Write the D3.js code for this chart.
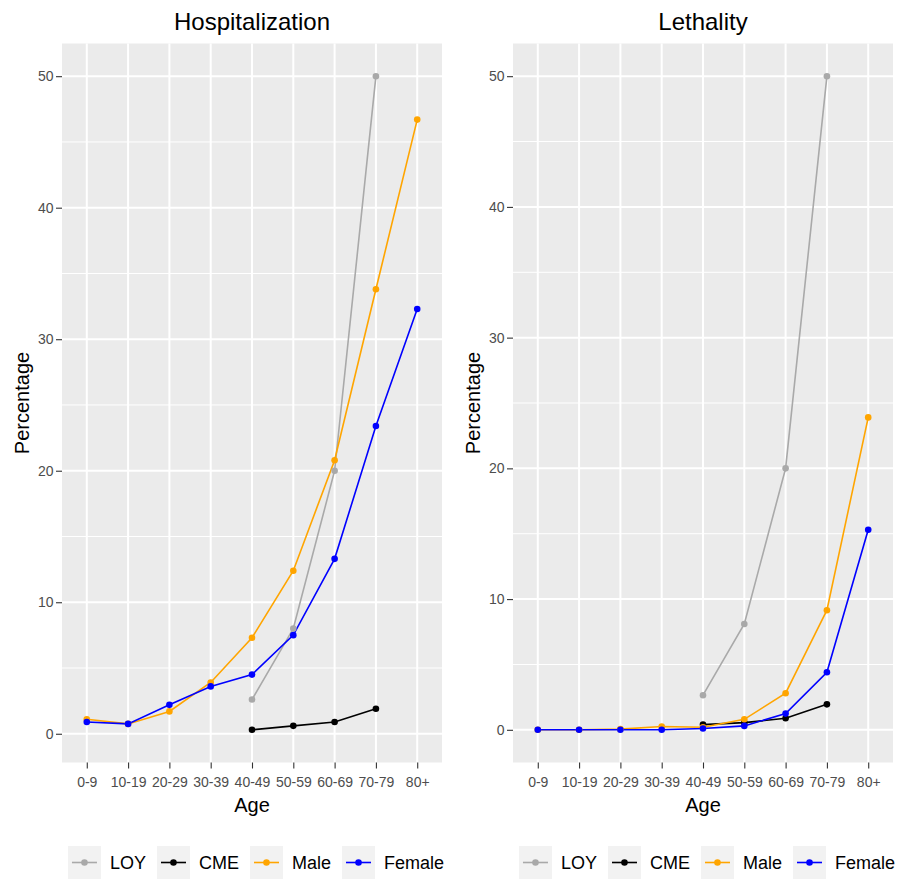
<!DOCTYPE html>
<html>
<head>
<meta charset="utf-8">
<script src="https://cdn.jsdelivr.net/npm/d3@7"></script>
<style>
body { margin: 0; background: #ffffff; }
text { font-family: "Liberation Sans", Arial, sans-serif; }
</style>
</head>
<body>
<div id="chart"></div>
<script>
var ages = ["0-9", "10-19", "20-29", "30-39", "40-49", "50-59", "60-69", "70-79", "80+"];
var seriesNames = ["LOY", "CME", "Male", "Female"];
var seriesColors = ["#a9a9a9", "#000000", "#ffa500", "#0000ff"];

// Hospitalization (%), null = no value for that age group
var hospLOY = [null, null, null, null, 2.6, 8.0, 20.0, 50.0, null];
var hospCME = [null, null, null, null, 0.3, 0.6, 0.9, 1.9, null];
var hospMale = [1.1, 0.75, 1.7, 3.9, 7.3, 12.4, 20.8, 33.8, 46.7];
var hospFemale = [0.9, 0.75, 2.2, 3.6, 4.5, 7.5, 13.3, 23.4, 32.3];

// Lethality (%)
var lethLOY = [null, null, null, null, 2.65, 8.1, 20.0, 50.0, null];
var lethCME = [null, null, null, null, 0.4, 0.55, 0.88, 1.95, null];
var lethMale = [0, 0, 0.05, 0.25, 0.2, 0.8, 2.8, 9.15, 23.9];
var lethFemale = [0, 0, 0, 0, 0.1, 0.3, 1.24, 4.4, 15.3];

var width = 898,
    height = 879,
    panelWidth = 380,
    panelTop = 43.5,
    panelHeight = 719,
    tickFont = "14px",
    tickColor = "#4d4d4d";

var svg = d3.select("#chart").append("svg")
    .attr("width", width)
    .attr("height", height);

function drawPanel(title, panelLeft, seriesValues){
    var series = seriesNames.map(function(name, i){
        return {name: name, color: seriesColors[i],
                points: ages.map(function(a, j){ return {age: a, value: seriesValues[i][j]}; })};
    });

    // ggplot style 5% expansion of the data range
    var all = [];
    seriesValues.forEach(function(vals){
        vals.forEach(function(v){ if (v != null) all.push(v); });
    });
    var yMin = d3.min(all), yMax = d3.max(all), pad = (yMax - yMin) * 0.05;

    var x = d3.scalePoint().domain(ages).range([0, panelWidth]).padding(0.6),
        y = d3.scaleLinear().domain([yMin - pad, yMax + pad]).range([panelHeight, 0]);

    var majors = y.ticks(5),
        step = majors[1] - majors[0],
        minors = d3.range(majors[0] - step / 2, majors[majors.length - 1] + step, step)
            .filter(function(v){ return v > y.domain()[0] && v < y.domain()[1]; });

    var g = svg.append("g")
        .attr("transform", "translate(" + panelLeft + "," + panelTop + ")");

    g.append("rect")
        .attr("width", panelWidth)
        .attr("height", panelHeight)
        .attr("fill", "#ebebeb");

    g.selectAll(".minor").data(minors).enter().append("line")
        .attr("x1", 0).attr("x2", panelWidth)
        .attr("y1", function(d){ return y(d); })
        .attr("y2", function(d){ return y(d); })
        .attr("stroke", "#ffffff").attr("stroke-width", 1);

    g.selectAll(".hmajor").data(majors).enter().append("line")
        .attr("x1", 0).attr("x2", panelWidth)
        .attr("y1", function(d){ return y(d); })
        .attr("y2", function(d){ return y(d); })
        .attr("stroke", "#ffffff").attr("stroke-width", 2);

    g.selectAll(".vmajor").data(ages).enter().append("line")
        .attr("y1", 0).attr("y2", panelHeight)
        .attr("x1", function(d){ return x(d); })
        .attr("x2", function(d){ return x(d); })
        .attr("stroke", "#ffffff").attr("stroke-width", 2);

    var line = d3.line()
        .defined(function(d){ return d.value != null; })
        .x(function(d){ return x(d.age); })
        .y(function(d){ return y(d.value); });

    g.selectAll(".series-line").data(series).enter().append("path")
        .attr("d", function(d){ return line(d.points); })
        .attr("fill", "none")
        .attr("stroke", function(d){ return d.color; })
        .attr("stroke-width", 1.6);

    series.forEach(function(s){
        g.append("g").selectAll("circle")
            .data(s.points.filter(function(p){ return p.value != null; }))
            .enter().append("circle")
            .attr("cx", function(d){ return x(d.age); })
            .attr("cy", function(d){ return y(d.value); })
            .attr("r", 3.3)
            .attr("fill", s.color);
    });

    // axes
    var yAxis = g.append("g")
        .call(d3.axisLeft(y).tickValues(majors).tickSize(6).tickPadding(2.5));
    var xAxis = g.append("g")
        .attr("transform", "translate(0," + panelHeight + ")")
        .call(d3.axisBottom(x).tickSize(6).tickPadding(8.5));

    [xAxis, yAxis].forEach(function(ax){
        ax.select(".domain").remove();
        ax.selectAll(".tick line").attr("stroke", "#333333").attr("stroke-width", 1.1);
        ax.selectAll(".tick text")
            .attr("fill", tickColor)
            .style("font-size", tickFont)
            .style("font-family", "'Liberation Sans', Arial, sans-serif");
    });

    // titles
    svg.append("text")
        .attr("x", panelLeft + panelWidth / 2)
        .attr("y", 29.5)
        .attr("text-anchor", "middle")
        .style("font-size", "24px")
        .text(title);

    svg.append("text")
        .attr("x", panelLeft + panelWidth / 2)
        .attr("y", 812)
        .attr("text-anchor", "middle")
        .style("font-size", "20px")
        .text("Age");

    svg.append("text")
        .attr("transform", "translate(" + (panelLeft - 33) + "," + (panelTop + panelHeight / 2) + ") rotate(-90)")
        .attr("text-anchor", "middle")
        .style("font-size", "20px")
        .text("Percentage");

    // legend
    var key = 33, textGap = 9, itemGap = 11;
    var legend = svg.append("g");
    var items = legend.selectAll("g").data(series).enter().append("g");
    items.append("rect")
        .attr("width", key).attr("height", key)
        .attr("fill", "#f2f2f2");
    items.append("line")
        .attr("x1", 4).attr("x2", key - 4)
        .attr("y1", key / 2).attr("y2", key / 2)
        .attr("stroke", function(d){ return d.color; })
        .attr("stroke-width", 1.6);
    items.append("circle")
        .attr("cx", key / 2).attr("cy", key / 2)
        .attr("r", 3.3)
        .attr("fill", function(d){ return d.color; });
    items.append("text")
        .attr("x", key + textGap)
        .attr("y", key / 2 + 6.5)
        .style("font-size", "18px")
        .text(function(d){ return d.name; });

    var offset = 0;
    items.each(function(){
        var w = key + textGap + d3.select(this).select("text").node().getComputedTextLength();
        d3.select(this).attr("transform", "translate(" + offset + ",0)");
        offset += w + itemGap;
    });
    var total = offset - itemGap;
    legend.attr("transform", "translate(" + (panelLeft + panelWidth / 2 + 4 - total / 2) + ",846)");
}

drawPanel("Hospitalization", 62, [hospLOY, hospCME, hospMale, hospFemale]);
drawPanel("Lethality", 513, [lethLOY, lethCME, lethMale, lethFemale]);
</script>
</body>
</html>
